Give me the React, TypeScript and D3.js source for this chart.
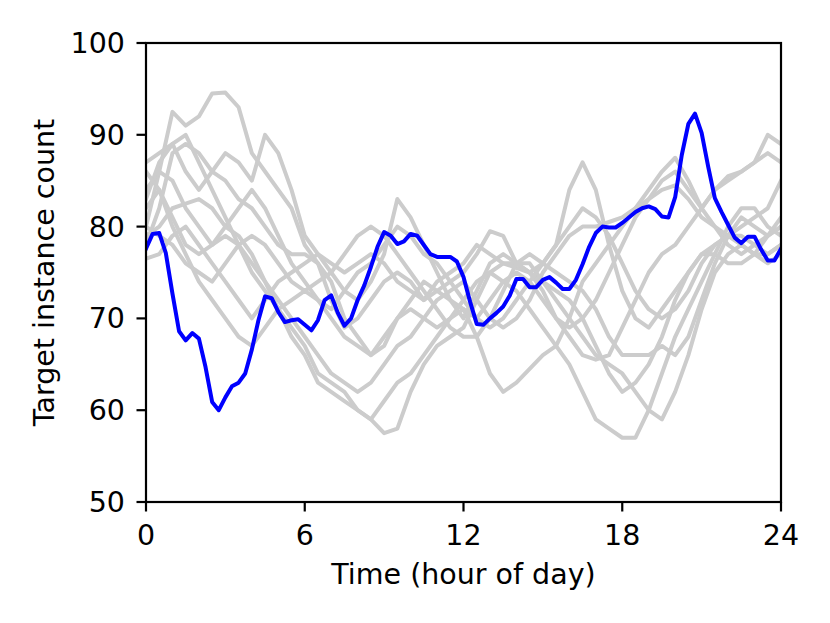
import * as d3 from 'd3';

// Blue series: 15-minute samples, 0h .. 24h
const targetSeries = [
  77.6, 79.2, 79.3, 77.1, 72.7, 68.6, 67.6, 68.4, 67.8, 64.7, 60.9, 60.0, 61.4,
  62.6, 63.0, 64.0, 66.6, 69.8, 72.4, 72.2, 70.7, 69.6, 69.8, 69.9, 69.3, 68.7,
  69.8, 72.0, 72.5, 70.6, 69.2, 70.0, 72.0, 73.6, 75.6, 77.8, 79.4, 79.0, 78.1,
  78.4, 79.2, 79.0, 78.0, 77.0, 76.7, 76.7, 76.7, 76.2, 74.5, 71.8, 69.4, 69.3,
  70.0, 70.6, 71.3, 72.5, 74.3, 74.3, 73.4, 73.4, 74.2, 74.5, 73.9, 73.2, 73.2,
  74.2, 75.9, 77.8, 79.3, 80.0, 79.9, 79.9, 80.4, 81.0, 81.6, 82.0, 82.2, 81.9,
  81.1, 81.0, 83.2, 87.8, 91.2, 92.3, 90.2, 86.5, 83.1, 81.6, 80.2, 78.8, 78.2,
  78.9, 78.9, 77.5, 76.3, 76.3, 77.6,
];

// Grey series: 30-minute samples, 0h .. 24h
const grey1 = [80, 86, 92.5, 91, 92, 94.5, 94.6, 93, 88, 86, 84, 82, 78, 76, 74, 70, 68, 66, 67, 70, 72, 74, 73, 72, 70, 73, 76, 77, 76, 75, 73, 70, 68, 66, 65.5, 66, 69, 72, 75, 77, 78, 80, 82, 84, 85.5, 86, 87, 88, 87];
const grey2 = [87, 88, 89, 86, 84, 86, 88, 87, 85, 90, 88, 84, 79, 77, 75, 73, 72, 74, 77, 83, 81, 78, 75, 72, 71, 68, 64, 62, 63, 64.5, 66, 67, 70, 74, 76, 78, 80, 82, 84, 86, 87.5, 85, 82, 80, 78, 77, 78, 79, 80];
const grey3 = [84, 86, 85, 82, 80, 78, 79, 78, 76, 74, 71, 68, 66, 63, 62, 61, 60, 59, 57.5, 58, 62, 65, 67, 68, 69, 72, 75, 76, 75.5, 75, 74, 73, 72, 70, 67, 64, 62, 63, 65, 68, 72, 75, 77, 78, 79, 78, 77, 79, 81];
const grey4 = [76.5, 77, 79, 80, 78, 76, 74, 72, 70, 72, 74, 75, 76, 77, 76, 75, 76, 77, 76, 74, 73, 72, 73, 74, 75, 77, 79.5, 79, 76, 75, 76, 78, 84, 87, 84, 78, 73, 70, 69, 71, 73, 75, 77, 77, 76, 76, 77, 77, 78];
const grey5 = [82, 84, 81, 78, 77, 78, 80, 82, 84, 82, 79, 76, 74, 72, 70, 68, 67, 66, 68, 70, 71, 70, 69, 70, 72, 74, 75, 74, 73, 71, 69, 67, 65, 62, 59, 58, 57, 57, 60, 64, 68, 71, 74, 77, 80, 82, 82, 80, 79];
const grey6 = [79, 80, 82, 82.5, 83, 82, 80, 79, 77, 74, 72, 70, 68, 66, 64, 63, 62, 63, 65, 67, 68, 70, 72, 73, 74, 72, 70, 69, 70, 72, 75, 77, 79, 80, 80, 80.5, 81, 82, 83, 84, 84.5, 83, 81, 80, 79, 80, 81, 82, 85];
const grey7 = [78, 82, 88, 89, 88, 86, 85, 83, 82, 80, 78, 77, 77, 76, 72, 69, 70, 72, 74, 75, 74, 72, 74, 75, 76, 78, 77, 76, 76, 76, 74, 72, 70, 68, 66, 65, 64, 62, 60, 59, 62, 66, 71, 75, 77, 78, 77, 76, 77];
const grey8 = [83, 87, 89, 90, 87, 84, 81, 78, 75, 73, 71, 69, 67, 64, 63, 62, 60, 59, 61, 63, 64, 66, 68, 70, 71, 70, 69, 70, 72, 74, 76, 78, 80, 82, 81, 79, 76, 73, 71, 70, 71, 73, 76, 78, 79, 79, 78, 77, 78];
const grey9 = [80, 79, 78, 76, 75, 74, 76, 78, 79, 78, 76, 74, 73, 74, 75, 77, 79, 80, 79, 77, 75, 73, 71, 69, 68, 68, 70, 73, 76, 77, 76, 75, 74, 73, 71, 68, 66, 66, 66, 67, 66, 68, 72, 76, 79, 81, 80, 79, 80];
const grey10 = [86, 84, 80, 77, 74, 72, 70, 68, 67, 69, 71, 72, 73, 72, 71, 73, 75, 76, 78, 80, 79, 77, 76, 74, 72, 70, 72, 74, 75, 74, 72, 70, 69, 70, 72, 75, 78, 81, 83, 85, 86, 84, 82, 84, 85, 86, 87, 90, 89];

const greySeries = [grey1, grey2, grey3, grey4, grey5, grey6, grey7, grey8, grey9, grey10];

const xTicks = [0, 6, 12, 18, 24];
const yTicks = [50, 60, 70, 80, 90, 100];

const W = 830;
const H = 623;
const margin = { top: 43, right: 49, bottom: 121, left: 146 };
const FONT = 'DejaVu Sans, sans-serif';
const FS = 28.5;
const TICK = 9.5;

export default function App() {
  const x = d3.scaleLinear().domain([0, 24]).range([margin.left, W - margin.right]);
  const y = d3.scaleLinear().domain([50, 100]).range([H - margin.bottom, margin.top]);

  const greyLine = d3.line<number>()
    .x((_, i) => x(i * 0.5))
    .y(d => y(d));

  const blueLine = d3.line<number>()
    .x((_, i) => x(i * 0.25))
    .y(d => y(d));

  const x0 = x(0), x1 = x(24), y0 = y(50), y1 = y(100);

  return (
    <div style={{ position: 'absolute', left: 0, top: 0 }}>
      <svg width={W} height={H} style={{ display: 'block', background: '#fff' }}>
        <defs>
          <clipPath id="plot-area">
            <rect x={x0} y={y1} width={x1 - x0} height={y0 - y1} />
          </clipPath>
        </defs>

        <g clipPath="url(#plot-area)" fill="none" strokeLinejoin="round" strokeLinecap="square">
          {greySeries.map((s, k) => (
            <path key={k} d={greyLine(s) || ''} stroke="#cccccc" strokeWidth={4} />
          ))}
          <path d={blueLine(targetSeries) || ''} stroke="#0000ff" strokeWidth={4} />
        </g>

        {/* frame */}
        <rect x={x0} y={y1} width={x1 - x0} height={y0 - y1} fill="none" stroke="#000" strokeWidth={2.2} />

        {/* x axis ticks */}
        {xTicks.map(t => (
          <g key={t}>
            <line x1={x(t)} x2={x(t)} y1={y0} y2={y0 + TICK} stroke="#000" strokeWidth={2.2} />
            <text x={x(t)} y={y0 + 43} textAnchor="middle" fontFamily={FONT} fontSize={FS}>{t}</text>
          </g>
        ))}

        {/* y axis ticks */}
        {yTicks.map(t => (
          <g key={t}>
            <line x1={x0 - TICK} x2={x0} y1={y(t)} y2={y(t)} stroke="#000" strokeWidth={2.2} />
            <text x={x0 - 2 * TICK - 2} y={y(t) + 10} textAnchor="end" fontFamily={FONT} fontSize={FS}>{t}</text>
          </g>
        ))}

        <text x={(x0 + x1) / 2} y={584} textAnchor="middle" fontFamily={FONT} fontSize={FS}>
          Time (hour of day)
        </text>
        <text
          transform={`translate(54,${(y0 + y1) / 2}) rotate(-90)`}
          textAnchor="middle"
          fontFamily={FONT}
          fontSize={FS}
        >
          Target instance count
        </text>
      </svg>
    </div>
  );
}
